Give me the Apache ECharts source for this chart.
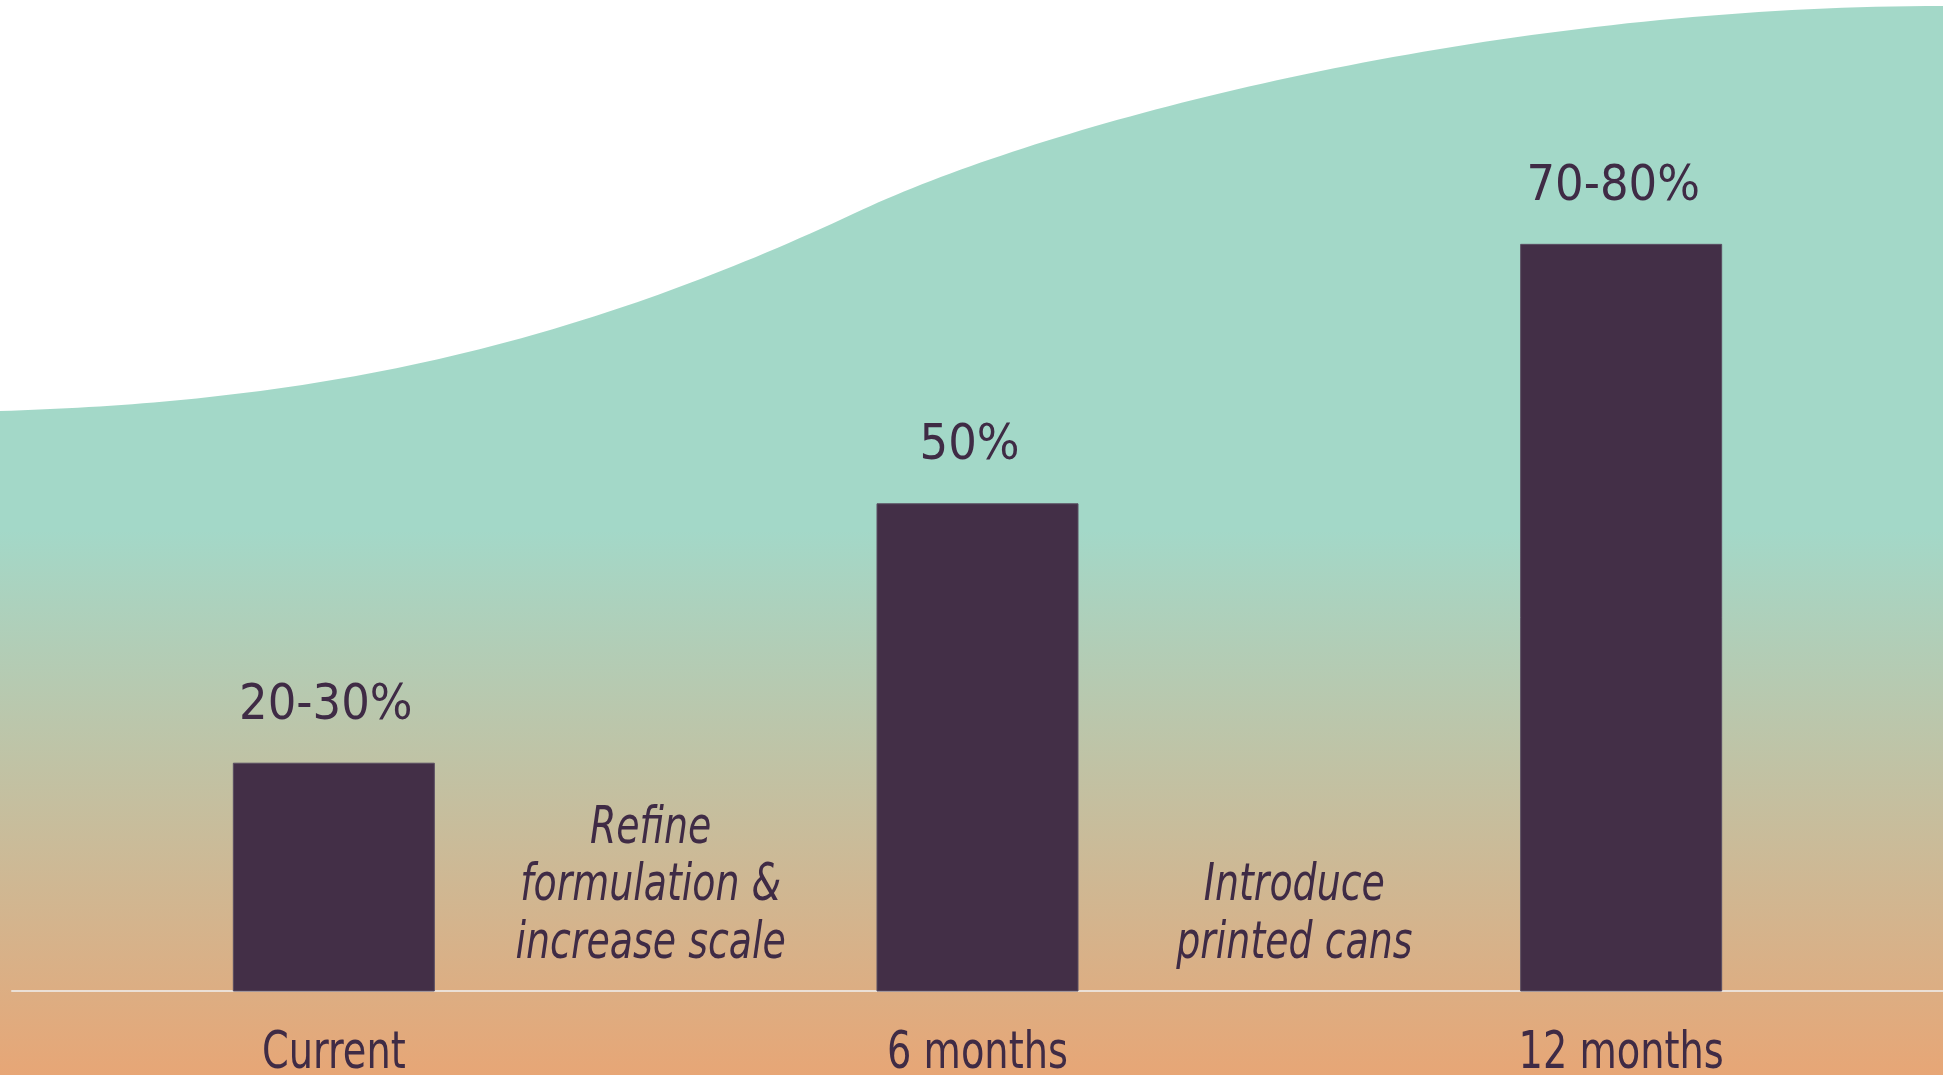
<!DOCTYPE html>
<html>
<head>
<meta charset="utf-8">
<script src="https://cdn.jsdelivr.net/npm/echarts@6/dist/echarts.min.js"></script>
<style>
  html, body { margin: 0; padding: 0; background: #ffffff; }
  #chart { width: 1943px; height: 1075px; }
</style>
</head>
<body>
<div id="chart"></div>
<script>
// ---- data ----
const categories = ['Current', '6 months', '12 months'];
const shareValues = [25, 50, 75];
const valueLabels = ['20-30%', '50%', '70-80%'];
const stepNotes = ['Refine\nformulation &\nincrease scale', 'Introduce\nprinted cans'];

// ---- styling ----
const FONT = "'Liberation Sans Narrow', 'DejaVu Sans Condensed', 'Arial Narrow', sans-serif";
const INK = '#3f2b45';
const BAR = '#432f47';
const W = 1943, H = 1075;

// decorative wave outline (background shape, not data): two cubic beziers
const waveSegs = [
  [[0, 411], [300, 402], [555, 354], [855, 213]],
  [[855, 213], [1055, 119], [1493, 6], [1943, 6]]
];
function sampleBeziers(segs, steps) {
  const out = [];
  segs.forEach(([p0, c1, c2, p1]) => {
    for (let s = 0; s < steps; s++) {
      const t = s / steps, u = 1 - t;
      out.push([
        u*u*u*p0[0] + 3*u*u*t*c1[0] + 3*u*t*t*c2[0] + t*t*t*p1[0],
        u*u*u*p0[1] + 3*u*u*t*c1[1] + 3*u*t*t*c2[1] + t*t*t*p1[1]
      ]);
    }
  });
  out.push(segs[segs.length - 1][3]);
  return out;
}
const wavePoly = sampleBeziers(waveSegs, 80);
wavePoly.push([W, 6], [W, H], [0, H]);

const chart = echarts.init(document.getElementById('chart'), null, { renderer: 'canvas' });

const background = {
  type: 'polygon',
  z: -100,
  silent: true,
  shape: { points: wavePoly },
  style: {
    fill: {
      type: 'linear', x: 0, y: 530, x2: 0, y2: 1075, global: true,
      colorStops: [{ offset: 0, color: '#a3d8c8' }, { offset: 1, color: '#e7a676' }]
    }
  }
};

const option = {
  animation: false,
  backgroundColor: '#ffffff',
  grid: { left: 12, right: -4, top: 0, bottom: 84, containLabel: false },
  xAxis: {
    type: 'category',
    data: categories,
    axisLine: { show: true, lineStyle: { color: '#ebe0d6', width: 2 } },
    axisTick: { show: false },
    splitLine: { show: false },
    axisLabel: { show: false }
  },
  yAxis: { type: 'value', min: 3, max: 98.5, show: false, splitLine: { show: false } },
  series: [{
    type: 'bar',
    data: shareValues,
    barWidth: 202,
    itemStyle: { color: BAR, borderColor: '#5a4e62', borderWidth: 1 },
    label: {
      show: true,
      position: 'top',
      distance: 32,
      offset: [-8, 0],
      fontSize: 50,
      lineHeight: 50,
      color: INK,
      fontFamily: FONT,
      formatter: p => valueLabels[p.dataIndex]
    },
    z: 5
  }],
  graphic: [background]
};
chart.setOption(option);

// category labels and step notes, placed through the axis scales
const axisY = chart.convertToPixel({ yAxisIndex: 0 }, 3);
const catTexts = categories.map((c, i) => ({
  type: 'text',
  z: 10,
  silent: true,
  x: chart.convertToPixel({ xAxisIndex: 0 }, i),
  y: axisY + 64,
  scaleX: 0.835,
  style: {
    text: c,
    fill: INK,
    font: '51px ' + FONT,
    fontSize: 51,
    fontFamily: FONT,
    align: 'center',
    verticalAlign: 'middle'
  }
}));
const notes = stepNotes.map((txt, i) => {
  const xa = chart.convertToPixel({ xAxisIndex: 0 }, i);
  const xb = chart.convertToPixel({ xAxisIndex: 0 }, i + 1);
  return {
    type: 'text',
    z: 10,
    silent: true,
    x: (xa + xb) / 2 - 5,
    y: axisY - 18,
    scaleX: 0.81,
    style: {
      text: txt,
      fill: INK,
      font: 'italic 52px ' + FONT,
      fontSize: 52,
      fontStyle: 'italic',
      fontFamily: FONT,
      lineHeight: 57.5,
      align: 'center',
      verticalAlign: 'bottom'
    }
  };
});
chart.setOption({ graphic: [background].concat(catTexts, notes) });
</script>
</body>
</html>
